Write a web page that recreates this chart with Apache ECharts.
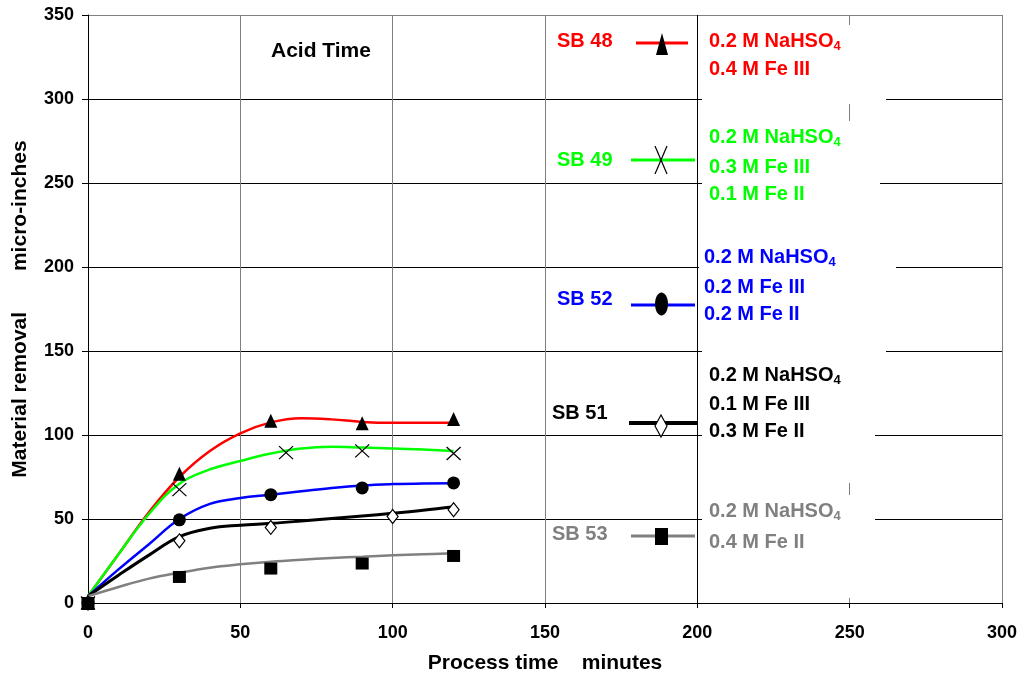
<!DOCTYPE html>
<html><head><meta charset="utf-8">
<script src="https://cdn.jsdelivr.net/npm/echarts@6/dist/echarts.min.js"></script>
<style>html,body{margin:0;padding:0;background:#fff}#c{width:1020px;height:679px}</style>
</head><body><div id="c"></div>
<script>
// ---------- data ----------
const xTicks = [0, 50, 100, 150, 200, 250, 300];
const yTicks = [0, 50, 100, 150, 200, 250, 300, 350];
const seriesNames = ['SB 48', 'SB 49', 'SB 52', 'SB 51', 'SB 53'];
const compositions = [
  ['0.2 M NaHSO4', '0.4 M Fe III'],
  ['0.2 M NaHSO4', '0.3 M Fe III', '0.1 M Fe II'],
  ['0.2 M NaHSO4', '0.2 M Fe III', '0.2 M Fe II'],
  ['0.2 M NaHSO4', '0.1 M Fe III', '0.3 M Fe II'],
  ['0.2 M NaHSO4', '0.4 M Fe II']
];
// measured points [minutes, micro-inches]
const sb48Points = [[0, 0], [30, 77], [60, 108.5], [90, 107], [120, 109.5]];
const sb49Points = [[0, 0], [30, 67.5], [65, 89.5], [90, 90.5], [120, 89]];
const sb52Points = [[0, 0], [30, 49.5], [60, 64.5], [90, 68.5], [120, 71.5]];
const sb51Points = [[0, 0], [30, 37], [60, 45], [100, 51.5], [120, 55.5]];
const sb53Points = [[0, 0], [30, 15.5], [60, 20.5], [90, 23.5], [120, 28]];
// smoothed curves
const curveX = [0, 10, 20, 30, 40, 50, 60, 70, 80, 90, 100, 110, 120];
const sb48Curve = [4, 29, 54, 75, 90.5, 101, 107.5, 110, 109.3, 107.8, 107.3, 107.3, 107.3];
const sb49Curve = [4, 29, 53, 71, 79.5, 84.5, 89, 92, 93, 92.5, 92, 91.3, 90.5];
const sb52Curve = [4, 20, 35, 50, 59, 62.5, 64.5, 66.5, 68.5, 70, 70.8, 71.2, 71.3];
const sb51Curve = [4, 16.5, 28.5, 39.5, 44.5, 46.3, 47.4, 48.8, 50.3, 51.8, 53.4, 55.2, 57.3];
const sb53Curve = [4, 9.5, 14.5, 18, 21, 23, 24.6, 25.8, 26.8, 27.6, 28.4, 29, 29.6];

// ---------- styles / layout ----------
const FONT = '"Liberation Sans", Arial, sans-serif';
const colors = ['#FF0000', '#00FF00', '#0000FF', '#000000', '#808080'];
const pointSets = [sb48Points, sb49Points, sb52Points, sb51Points, sb53Points];
const curveSets = [sb48Curve, sb49Curve, sb52Curve, sb51Curve, sb53Curve];
const lineWidths = [2.5, 2.5, 2.5, 3, 2.5];
const symbolDefs = [
  { symbol: 'triangle', size: [13, 14], item: { color: '#000', opacity: 1 } },
  { symbol: 'path://M0,0L10,10M10,0L0,10', size: [14, 13], item: { color: 'transparent', borderColor: '#000', borderWidth: 1.2, opacity: 1 } },
  { symbol: 'circle', size: 13, item: { color: '#000', opacity: 1 } },
  { symbol: 'diamond', size: [11, 14], item: { color: '#fff', borderColor: '#000', borderWidth: 1.2, opacity: 1 } },
  { symbol: 'rect', size: [13, 12], item: { color: '#000', opacity: 1 } }
];
const legendLayout = [
  { nameX: 557, nameY: 41, lineX: [636, 688], lineY: 43, lineW: 3, textX: 709, textY: [41, 69], marker: 'triangle', mx: 662, my: 44 },
  { nameX: 557, nameY: 160, lineX: [631, 695], lineY: 160, lineW: 3, textX: 709, textY: [137, 167, 194], marker: 'cross', mx: 661, my: 160 },
  { nameX: 557, nameY: 299, lineX: [631, 695], lineY: 305, lineW: 3, textX: 704, textY: [257, 287, 314], marker: 'ellipse', mx: 661.5, my: 304 },
  { nameX: 552, nameY: 413, lineX: [629, 698], lineY: 423, lineW: 4, textX: 709, textY: [375, 404, 431], marker: 'diamond', mx: 661, my: 426 },
  { nameX: 552, nameY: 534, lineX: [631, 695], lineY: 536, lineW: 3, textX: 709, textY: [511, 542], marker: 'square', mx: 661.5, my: 536.5 }
];
const whiteBoxes = [[702, 25, 184, 79], [702, 121, 178, 114], [699, 235, 197, 110], [702, 345, 184, 55], [702, 400, 173, 83], [702, 495, 173, 103]];

// ---------- build ----------
const series = [];
curveSets.forEach((c, i) => {
  series.push({
    type: 'line', name: seriesNames[i] + ' fit', data: curveX.map((x, k) => [x, c[k]]),
    smooth: 0.4, showSymbol: false,
    lineStyle: { color: colors[i], width: lineWidths[i] }, z: 3, silent: true
  });
});
pointSets.forEach((p, i) => {
  series.push({
    type: 'scatter', name: seriesNames[i], data: p, symbol: symbolDefs[i].symbol,
    symbolSize: symbolDefs[i].size, itemStyle: symbolDefs[i].item, clip: false, z: 5 + (i === 4 ? 2 : 0)
  });
});

const graphics = [];
whiteBoxes.forEach(b => graphics.push({
  type: 'rect', shape: { x: b[0], y: b[1], width: b[2], height: b[3] },
  style: { fill: '#fff' }, z: 100, silent: true
}));
legendLayout.forEach((L, i) => {
  const col = colors[i];
  graphics.push({
    type: 'text', x: L.nameX, y: L.nameY, z: 110,
    style: { text: seriesNames[i], fill: col, fontSize: 20, fontWeight: 'bold', fontFamily: FONT, verticalAlign: 'middle' }
  });
  graphics.push({
    type: 'line', shape: { x1: L.lineX[0], y1: L.lineY, x2: L.lineX[1], y2: L.lineY }, z: 110,
    style: { stroke: col, lineWidth: L.lineW }
  });
  const mx = L.mx, my = L.my;
  if (L.marker === 'triangle') {
    graphics.push({ type: 'polygon', z: 111, shape: { points: [[mx - 6, my + 11], [mx + 6, my + 11], [mx, my - 11]] }, style: { fill: '#000' } });
  } else if (L.marker === 'cross') {
    graphics.push({ type: 'line', z: 111, shape: { x1: mx - 6, y1: my - 14, x2: mx + 6, y2: my + 14 }, style: { stroke: '#000', lineWidth: 1.2 } });
    graphics.push({ type: 'line', z: 111, shape: { x1: mx + 6, y1: my - 14, x2: mx - 6, y2: my + 14 }, style: { stroke: '#000', lineWidth: 1.2 } });
  } else if (L.marker === 'ellipse') {
    graphics.push({ type: 'ellipse', z: 111, shape: { cx: mx, cy: my, rx: 6.5, ry: 11.5 }, style: { fill: '#000' } });
  } else if (L.marker === 'diamond') {
    graphics.push({ type: 'polygon', z: 111, shape: { points: [[mx, my - 11], [mx + 6, my], [mx, my + 11], [mx - 6, my]] }, style: { fill: '#fff', stroke: '#000', lineWidth: 1.2 } });
  } else {
    graphics.push({ type: 'rect', z: 111, shape: { x: mx - 6.5, y: my - 8.5, width: 13, height: 17 }, style: { fill: '#000' } });
  }
  compositions[i].forEach((t, j) => {
    graphics.push({
      type: 'text', x: L.textX, y: L.textY[j], z: 110,
      style: {
        text: t.replace(/SO4$/, 'SO{s|4}'), fill: col, fontSize: 20, fontWeight: 'bold', fontFamily: FONT, verticalAlign: 'middle',
        rich: { s: { fill: col, fontSize: 13, fontWeight: 'bold', fontFamily: FONT, verticalAlign: 'bottom', lineHeight: 24 } }
      }
    });
  });
});

const xSplitColors = xTicks.map(v => v === 200 ? '#000' : '#808080');
const ySplitColors = yTicks.map(v => v === 350 ? '#808080' : '#000');

const chart = echarts.init(document.getElementById('c'), null, { renderer: 'canvas' });
chart.setOption({
  animation: false,
  backgroundColor: '#fff',
  title: { text: 'Acid Time', left: 266, top: 36, textStyle: { fontSize: 21, fontWeight: 'bold', fontFamily: FONT, color: '#000' } },
  grid: { left: 88, right: 17, top: 15, bottom: 76, containLabel: false },
  xAxis: {
    type: 'value', min: xTicks[0], max: xTicks[xTicks.length - 1], interval: 50,
    name: 'Process time    minutes', nameLocation: 'middle', nameGap: 50,
    nameTextStyle: { fontSize: 21, fontWeight: 'bold', fontFamily: FONT, color: '#000' },
    axisLine: { show: true, lineStyle: { color: '#000', width: 1 } },
    axisTick: { show: true, length: 5, lineStyle: { color: '#000' } },
    axisLabel: { fontSize: 18, fontWeight: 'bold', fontFamily: FONT, color: '#000', margin: 21 },
    splitLine: { show: true, lineStyle: { color: xSplitColors, width: 1 } }
  },
  yAxis: {
    type: 'value', min: yTicks[0], max: yTicks[yTicks.length - 1], interval: 50,
    name: 'Material removal       micro-inches', nameLocation: 'middle', nameGap: 57,
    nameTextStyle: { fontSize: 21, fontWeight: 'bold', fontFamily: FONT, color: '#000' },
    axisLine: { show: true, lineStyle: { color: '#000', width: 1 } },
    axisTick: { show: true, length: 6, lineStyle: { color: '#000' } },
    axisLabel: { fontSize: 18, fontWeight: 'bold', fontFamily: FONT, color: '#000', margin: 14 },
    splitLine: { show: true, lineStyle: { color: ySplitColors, width: 1 } }
  },
  series: series,
  graphic: { elements: graphics }
});
</script></body></html>
